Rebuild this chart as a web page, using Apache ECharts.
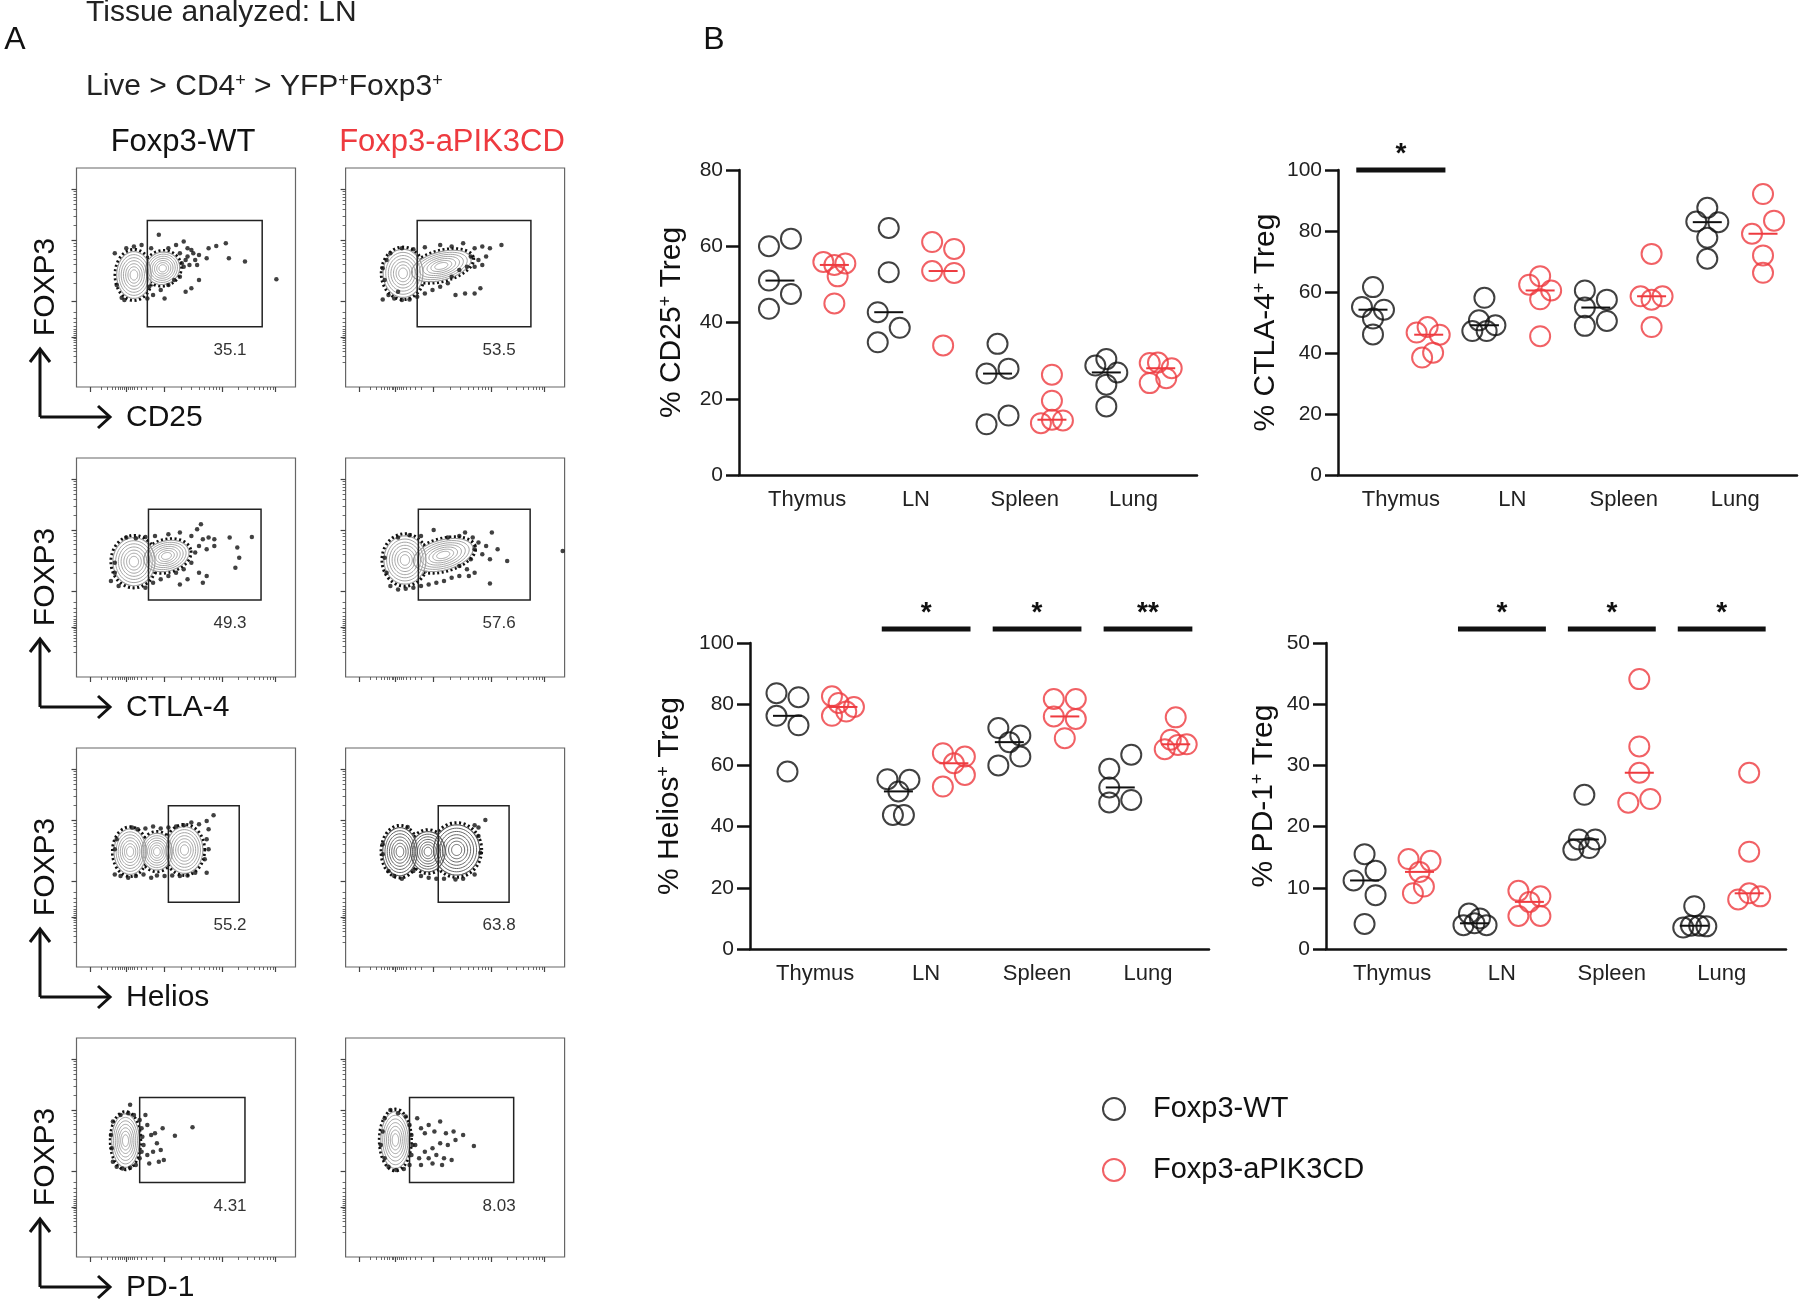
<!DOCTYPE html>
<html>
<head>
    <meta charset="utf-8">
    <title>Treg phenotype</title>
    <script src="https://cdn.jsdelivr.net/npm/echarts@6/dist/echarts.min.js"></script>
</head>
<body style="margin:0;background:#fff;">
    <div id="main" style="width:1800px;height:1301px;"></div>

    <script>
        var FONT = '"Liberation Sans", Arial, Helvetica, sans-serif';

        // ---- panel B data (five mice per tissue, % of Treg) ----
        var tissues = ['Thymus', 'LN', 'Spleen', 'Lung'];
        var groupNames = ['Foxp3-WT', 'Foxp3-aPIK3CD'];
        var groupColors = ['#111111', '#ee3a3f'];

        var cd25WT = [[60.0, 62.0, 51.0, 47.5, 43.6], [64.8, 53.2, 42.7, 38.6, 34.8], [34.4, 27.9, 26.6, 15.6, 13.3], [28.7, 30.4, 26.9, 23.7, 18.0]];
        var cd25Mut = [[55.9, 55.1, 55.5, 52.1, 45.0], [61.1, 59.3, 53.5, 53.0, 34.0], [26.3, 19.5, 14.5, 13.6, 14.3], [29.4, 29.5, 28.0, 25.4, 24.1]];
        var ctla4WT = [[61.6, 55.1, 54.2, 51.3, 46.1], [58.1, 50.7, 47.2, 47.2, 49.1], [60.5, 57.5, 54.9, 48.9, 50.5], [87.6, 83.1, 82.9, 77.8, 70.9]];
        var ctla4Mut = [[46.7, 48.5, 46.0, 40.1, 38.5], [65.2, 62.4, 60.5, 57.6, 45.5], [72.5, 58.6, 57.5, 58.6, 48.5], [92.1, 83.4, 79.1, 72.0, 66.3]];
        var heliosWT = [[83.6, 82.3, 76.2, 73.1, 58.0], [55.5, 55.3, 51.5, 43.8, 43.8], [72.2, 69.8, 67.6, 62.9, 60.0], [63.5, 58.9, 52.8, 48.7, 47.9]];
        var heliosMut = [[82.6, 80.4, 76.2, 77.6, 79.1], [64.0, 62.9, 60.7, 56.9, 53.1], [81.7, 81.7, 76.0, 75.2, 68.9], [75.7, 65.3, 68.4, 66.7, 66.9]];
        var pd1WT = [[15.5, 12.8, 11.2, 8.8, 4.1], [5.8, 5.0, 3.9, 4.2, 3.9], [25.2, 17.9, 17.9, 16.2, 16.5], [7.0, 3.5, 3.8, 3.8, 3.7]];
        var pd1Mut = [[14.7, 14.4, 12.6, 10.2, 9.1], [9.5, 8.6, 7.7, 5.4, 5.4], [44.1, 33.1, 28.8, 23.9, 24.5], [28.8, 15.9, 9.1, 8.1, 8.6]];

        // which side of its column each mouse sits on (-1 left, 0 middle, 1 right)
        var cd25SideWT = [[-1, 1, -1, 1, -1], [0, 0, -1, 1, -1], [0, 1, -1, 1, -1], [-1, 0, 1, 0, 0]];
        var cd25SideMut = [[-1, 0, 1, 0.3, 0], [-1, 1, -1, 1, 0], [0, 0, 0, -1, 1], [-1, -0.25, 1, 0.5, -1]];
        var ctla4SideWT = [[0, -1, 1, 0, 0], [0, -0.5, -1.1, 0.2, 1], [-1, 1, -1, -1, 1], [0, -1, 1, 0, 0]];
        var ctla4SideMut = [[-1.1, -0.1, 1, 0.4, -0.6], [0, -1, 1, 0, 0], [0, -1, 0, 1, 0], [0, 1, -1, 0, 0]];
        var heliosSideWT = [[-1, 1, -1, 1, 0], [-1, 1, 0, -0.5, 0.5], [-1, 1, 0, 1, -1], [1, -1, -1, 1, -1]];
        var heliosSideMut = [[-1, -0.4, -1, 0.3, 1], [-1, 1, 0, 1, -1], [-1, 1, -1, 1, 0], [0, -1, -0.45, 0.2, 1]];
        var pd1SideWT = [[0, 1, -1, 1, 0], [-0.5, 0.5, -1, 0, 1.1], [0, -0.5, 1, -1, 0.45], [0, -1, -0.3, 0.45, 1.1]];
        var pd1SideMut = [[-1, 1, 0, 0.4, -0.6], [-1, 1, 0, -1, 1], [0, 0, 0, -1, 1], [0, 0, 0, -1, 1]];

        // significance marks: [tissue, stars]
        var cd25Sig = [];
        var ctla4Sig = [['Thymus', '*']];
        var heliosSig = [['LN', '*'], ['Spleen', '*'], ['Lung', '**']];
        var pd1Sig = [['LN', '*'], ['Spleen', '*'], ['Lung', '*']];

        // ---- panel A data (flow plots, channel units: x 0-572, y 0-655) ----
        var flowMarkers = ['CD25', 'CTLA-4', 'Helios', 'PD-1'];
        // gate: [x0, y0, x1, y1, % in gate]
        var gatesWT = [[185, 180, 485, 498, 35.1], [188, 230, 482, 502, 49.3], [240, 194, 425, 482, 55.2], [165, 223, 440, 477, 4.31]];
        var gatesMut = [[187, 180, 484, 498, 53.5], [190, 230, 482, 502, 57.6], [242, 194, 427, 482, 63.8], [167, 223, 439, 477, 8.03]];
        // density lobes: [cx, cy, rx, ry, tilt deg]
        var lobesWT = [
            [[150, 335, 45, 70, 0], [225, 355, 45, 48, 25]],
            [[150, 345, 55, 72, 0], [235, 362, 60, 45, 15]],
            [[140, 345, 42, 68, 0], [282, 350, 48, 70, 0], [210, 345, 40, 55, 0]],
            [[128, 348, 36, 80, 0]]
        ];
        var lobesMut = [
            [[150, 340, 52, 72, 0], [250, 362, 80, 42, 15]],
            [[155, 350, 55, 72, 0], [255, 365, 80, 45, 15]],
            [[142, 345, 45, 72, 0], [290, 350, 60, 75, 0], [215, 345, 45, 60, 0]],
            [[130, 350, 38, 85, 0]]
        ];
        // events outside the contour levels
        var eventsWT = [
            [[100, 400], [105, 305], [118, 267], [125, 260], [130, 415], [150, 420], [170, 425], [195, 415], [215, 455], [240, 415], [260, 425], [270, 400], [280, 435], [290, 390], [300, 410], [310, 380], [295, 365], [320, 395], [340, 385], [345, 415], [285, 380], [275, 370], [305, 400], [290, 415], [315, 365], [280, 360], [270, 330], [255, 320], [240, 305], [220, 290], [200, 275], [190, 300], [230, 265], [285, 285], [300, 295], [320, 320], [365, 422], [390, 430], [398, 385], [440, 375], [522, 322], [185, 265]],
            [[100, 342], [100, 312], [90, 287], [110, 272], [130, 417], [155, 415], [180, 419], [205, 422], [240, 427], [270, 432], [300, 422], [315, 442], [325, 457], [330, 412], [345, 417], [360, 412], [320, 392], [340, 382], [310, 372], [360, 392], [400, 417], [420, 387], [458, 419], [425, 357], [415, 327], [300, 342], [280, 322], [260, 312], [240, 302], [220, 292], [200, 282], [180, 267], [320, 312], [340, 302], [290, 292], [330, 282], [270, 277]],
            [[145, 417], [160, 412], [180, 414], [200, 420], [220, 414], [240, 417], [260, 420], [280, 424], [300, 432], [320, 427], [340, 437], [358, 454], [345, 412], [340, 382], [345, 352], [335, 322], [340, 282], [100, 277], [115, 272], [135, 267], [155, 272], [175, 277], [195, 267], [210, 274], [230, 272], [250, 274], [270, 272], [290, 274], [310, 282], [105, 382], [100, 352]],
            [[95, 405], [90, 365], [92, 325], [95, 285], [105, 270], [120, 265], [140, 267], [155, 275], [165, 295], [170, 315], [175, 335], [172, 360], [170, 385], [165, 410], [150, 425], [135, 430], [115, 425], [140, 455], [185, 395], [195, 365], [205, 370], [210, 340], [200, 315], [220, 320], [228, 290], [215, 285], [185, 305], [190, 280], [225, 385], [257, 363], [303, 388], [180, 425]]
        ];
        var eventsMut = [
            [[97, 355], [102, 320], [97, 262], [112, 275], [127, 265], [147, 260], [167, 262], [187, 270], [207, 280], [227, 290], [247, 300], [267, 310], [117, 400], [147, 415], [177, 412], [207, 418], [247, 425], [277, 420], [307, 430], [337, 415], [357, 420], [377, 415], [407, 425], [327, 390], [347, 380], [367, 390], [337, 360], [357, 365], [317, 360], [297, 350], [287, 275], [312, 280], [337, 280], [352, 295], [277, 330], [137, 285], [107, 380]],
            [[102, 357], [107, 312], [117, 272], [137, 262], [157, 264], [177, 267], [197, 272], [217, 277], [237, 282], [257, 287], [277, 297], [297, 302], [137, 417], [167, 424], [197, 422], [230, 440], [267, 417], [297, 422], [312, 432], [332, 417], [347, 402], [367, 392], [382, 432], [337, 382], [357, 367], [327, 352], [377, 352], [397, 382], [422, 347], [317, 322], [297, 332], [337, 312], [322, 302], [377, 280], [567, 377]],
            [[97, 367], [162, 419], [337, 424], [365, 440], [347, 417], [352, 342], [337, 277], [112, 287], [127, 272], [147, 264], [197, 272], [217, 267], [237, 264], [257, 264], [287, 262], [307, 264], [177, 287], [347, 392], [97, 337]],
            [[97, 375], [92, 335], [102, 295], [112, 270], [132, 260], [152, 263], [167, 275], [172, 305], [175, 335], [172, 365], [167, 395], [157, 420], [137, 430], [117, 440], [102, 415], [187, 415], [197, 385], [207, 370], [217, 395], [232, 375], [247, 405], [262, 370], [282, 375], [307, 365], [287, 350], [267, 335], [247, 340], [227, 325], [207, 315], [192, 295], [217, 295], [237, 305], [257, 295], [277, 290], [252, 275], [227, 280], [197, 275], [182, 335], [335, 332]]
        ];
        var flowMajorX = [35, 130, 228, 380, 520];
        var flowMajorY = [150, 257, 438, 592];

        // log-style minor ticks between two decade marks
        function minorTicks(a, b, denseAtStart) {
            var out = [];
            for (var k = 2; k < 10; k++) {
                var f = Math.log10(k);
                out.push(denseAtStart ? b - (b - a) * f : a + (b - a) * f);
            }
            return out;
        }
        var flowMinorX = [].concat(minorTicks(35, 130), minorTicks(130, 228, true), minorTicks(228, 380), minorTicks(380, 520));
        var flowMinorY = [].concat(minorTicks(40, 150), minorTicks(150, 257, true), minorTicks(257, 438), minorTicks(438, 592));

        var grids = [], xAxes = [], yAxes = [], series = [], graphics = [];

        // ---------------- panel A ----------------
        function flowAxis(gi, dim, ticks, len, w) {
            return {
                gridIndex: gi, type: 'value', min: 0, max: dim === 'x' ? 572 : 655,
                position: dim === 'x' ? 'bottom' : 'left',
                axisLine: { show: false, onZero: false },
                axisTick: { show: true, customValues: ticks, length: len, lineStyle: { color: '#444', width: w } },
                axisLabel: { show: false },
                splitLine: { show: false }
            };
        }

        function ellipsePts(api, scale) {
            var c = api.coord([api.value(0), api.value(1)]);
            var s = api.size([api.value(2), api.value(3)]);
            var a = api.value(4) * Math.PI / 180, pts = [];
            for (var i = 0; i < 56; i++) {
                var t = i / 56 * 2 * Math.PI;
                var ex = s[0] * scale * Math.cos(t), ey = s[1] * scale * Math.sin(t);
                pts.push([c[0] + ex * Math.cos(a) - ey * Math.sin(a), c[1] - (ex * Math.sin(a) + ey * Math.cos(a))]);
            }
            return pts;
        }

        // dense rim of events around the population
        function rimItem(params, api) {
            return { type: 'polygon', shape: { points: ellipsePts(api, 1.07) }, style: { fill: 'none', stroke: '#111', lineWidth: 4, lineDash: [2, 2.5] } };
        }
        // white body that hides the inner parts of the rims
        function bodyItem(params, api) {
            return { type: 'polygon', shape: { points: ellipsePts(api, 1.02) }, style: { fill: '#fff', stroke: 'none' } };
        }
        function contourItem(ringColor) {
            return function (params, api) {
                var kids = [];
                for (var k = 0; k < 7; k++) {
                    kids.push({
                        type: 'polygon', shape: { points: ellipsePts(api, 1 - k * 0.13) },
                        style: { fill: 'none', stroke: ringColor, lineWidth: k === 0 ? 1.1 : 0.9 }
                    });
                }
                return { type: 'group', children: kids };
            };
        }

        function gateItem(params, api) {
            var p0 = api.coord([api.value(0), api.value(3)]);
            var p1 = api.coord([api.value(2), api.value(1)]);
            var lab = api.coord([401, api.value(1) - 70]);
            return {
                type: 'group', children: [
                    { type: 'rect', shape: { x: p0[0], y: p0[1], width: p1[0] - p0[0], height: p1[1] - p0[1] }, style: { fill: 'none', stroke: '#222', lineWidth: 1.5 } },
                    { type: 'text', x: lab[0], y: lab[1], style: { text: String(api.value(4)), fontSize: 17, fontFamily: FONT, fill: '#333', align: 'center', verticalAlign: 'middle' } }
                ]
            };
        }

        for (var r = 0; r < 4; r++) {
            [0, 1].forEach(function (col) {
                var gi = grids.length, xi = xAxes.length, yi = yAxes.length;
                grids.push({ left: col ? 345.6 : 76.5, top: 168 + 290 * r, width: 219, height: 219, show: true, borderColor: '#666', borderWidth: 1.2, backgroundColor: '#fff', outerBoundsMode: 'none' });
                xAxes.push(flowAxis(gi, 'x', flowMajorX, 5, 1.2), flowAxis(gi, 'x', flowMinorX, 3, 0.8));
                yAxes.push(flowAxis(gi, 'y', flowMajorY, 5, 1.2), flowAxis(gi, 'y', flowMinorY, 3, 0.8));
                var lobes = col ? lobesMut[r] : lobesWT[r];
                var ring = (col && r === 2) ? '#555' : '#9a9a9a';
                series.push(
                    { type: 'custom', xAxisIndex: xi, yAxisIndex: yi, silent: true, z: 2, data: lobes, renderItem: rimItem },
                    { type: 'custom', xAxisIndex: xi, yAxisIndex: yi, silent: true, z: 2, zlevel: 0, data: lobes, renderItem: bodyItem },
                    { type: 'custom', xAxisIndex: xi, yAxisIndex: yi, silent: true, z: 2, data: lobes, renderItem: contourItem(ring) },
                    {
                        type: 'scatter', xAxisIndex: xi, yAxisIndex: yi, silent: true, z: 3,
                        symbolSize: 4.5, itemStyle: { color: '#111' },
                        data: col ? eventsMut[r] : eventsWT[r]
                    },
                    {
                        type: 'custom', xAxisIndex: xi, yAxisIndex: yi, silent: true, z: 4,
                        data: [col ? gatesMut[r] : gatesWT[r]], renderItem: gateItem
                    }
                );
            });

            // FOXP3 / marker arrows
            var o = 290 * r;
            graphics.push(
                { type: 'polyline', shape: { points: [[40, 417 + o], [40, 349 + o]] }, style: { stroke: '#111', lineWidth: 3, fill: null } },
                { type: 'polyline', shape: { points: [[30, 362 + o], [40, 349 + o], [50, 362 + o]] }, style: { stroke: '#111', lineWidth: 3, fill: null } },
                { type: 'polyline', shape: { points: [[40, 417 + o], [110, 417 + o]] }, style: { stroke: '#111', lineWidth: 3, fill: null } },
                { type: 'polyline', shape: { points: [[98, 406 + o], [110, 417 + o], [98, 428 + o]] }, style: { stroke: '#111', lineWidth: 3, fill: null } },
                { type: 'text', x: 46, y: 287 + o, rotation: Math.PI / 2, style: { text: 'FOXP3', fontSize: 30, fontFamily: FONT, fill: '#111', align: 'center', verticalAlign: 'middle' } },
                { type: 'text', x: 126, y: 418 + o, style: { text: flowMarkers[r], fontSize: 30, fontFamily: FONT, fill: '#111', align: 'left', verticalAlign: 'middle' } }
            );
        }

        var rich = {
            n: { fontSize: 30, fontFamily: FONT, fill: '#222', color: '#222' },
            s: { fontSize: 18, fontFamily: FONT, fill: '#222', color: '#222', verticalAlign: 'top' }
        };
        graphics.push(
            { type: 'text', x: 15, y: 40, style: { text: 'A', fontSize: 32, fontFamily: FONT, fill: '#111', align: 'center', verticalAlign: 'middle' } },
            { type: 'text', x: 714, y: 40, style: { text: 'B', fontSize: 32, fontFamily: FONT, fill: '#111', align: 'center', verticalAlign: 'middle' } },
            { type: 'text', x: 86, y: 13, style: { text: 'Tissue analyzed: LN', fontSize: 30, fontFamily: FONT, fill: '#222', align: 'left', verticalAlign: 'middle' } },
            { type: 'text', x: 86, y: 87, style: { text: '{n|Live > CD4}{s|+}{n| > YFP}{s|+}{n|Foxp3}{s|+}', rich: rich, align: 'left', verticalAlign: 'middle' } },
            { type: 'text', x: 183, y: 142, style: { text: groupNames[0], fontSize: 31, fontFamily: FONT, fill: '#111', align: 'center', verticalAlign: 'middle' } },
            { type: 'text', x: 452, y: 142, style: { text: groupNames[1], fontSize: 31, fontFamily: FONT, fill: groupColors[1], align: 'center', verticalAlign: 'middle' } }
        );

        // ---------------- panel B ----------------
        var panels = [
            { wt: cd25WT, mut: cd25Mut, sWT: cd25SideWT, sMut: cd25SideMut, sig: cd25Sig, label: 'CD25', max: 80, step: 20, sigAt: 80,
              left: 739, top: 170, width: 458, height: 305, xMin: 0.247, xMax: 8.667, gap: 52 },
            { wt: ctla4WT, mut: ctla4Mut, sWT: ctla4SideWT, sMut: ctla4SideMut, sig: ctla4Sig, label: 'CTLA-4', max: 100, step: 20, sigAt: 100,
              left: 1338, top: 170, width: 459, height: 305, xMin: 0.372, xMax: 8.61, gap: 57 },
            { wt: heliosWT, mut: heliosMut, sWT: heliosSideWT, sMut: heliosSideMut, sig: heliosSig, label: 'Helios', max: 100, step: 20, sigAt: 104.6,
              left: 750, top: 643, width: 459, height: 306, xMin: 0.324, xMax: 8.6, gap: 65 },
            { wt: pd1WT, mut: pd1Mut, sWT: pd1SideWT, sMut: pd1SideMut, sig: pd1Sig, label: 'PD-1', max: 50, step: 10, sigAt: 52.3,
              left: 1326, top: 643, width: 460, height: 306, xMin: 0.298, xMax: 8.67, gap: 47 }
        ];

        function median(arr) {
            var s = arr.slice().sort(function (a, b) { return a - b; });
            return s[Math.floor(s.length / 2)];
        }

        function medianItem(params, api) {
            var p = api.coord([api.value(0), api.value(1)]);
            return { type: 'line', shape: { x1: p[0] - 14.5, y1: p[1], x2: p[0] + 14.5, y2: p[1] }, style: { stroke: groupColors[api.value(2)], lineWidth: 2 } };
        }

        function sigItem(stars) {
            return function (params, api) {
                var c = api.value(0), lv = api.value(1);
                var a = api.coord([c - 0.8, lv]), b = api.coord([c + 0.8, lv]);
                return {
                    type: 'group', children: [
                        { type: 'line', shape: { x1: a[0], y1: a[1], x2: b[0], y2: b[1] }, style: { stroke: '#111', lineWidth: 5 } },
                        { type: 'text', x: (a[0] + b[0]) / 2, y: a[1] - 16, style: { text: stars[api.value(2)], fontSize: 28, fontWeight: 'bold', fontFamily: FONT, fill: '#111', align: 'center', verticalAlign: 'middle' } }
                    ]
                };
            };
        }

        panels.forEach(function (p) {
            var gi = grids.length, xi = xAxes.length, yi = yAxes.length;
            grids.push({ left: p.left, top: p.top, width: p.width, height: p.height, outerBoundsMode: 'none' });
            xAxes.push({
                gridIndex: gi, type: 'value', min: p.xMin, max: p.xMax,
                axisLine: { show: true, onZero: false, lineStyle: { color: '#111', width: 2.5 } },
                axisTick: { show: false },
                splitLine: { show: false },
                axisLabel: {
                    customValues: [1.5, 3.5, 5.5, 7.5], margin: 14, fontSize: 22, fontFamily: FONT, color: '#222',
                    formatter: function (v) { return tissues[Math.round((v - 1.5) / 2)]; }
                }
            });
            yAxes.push({
                gridIndex: gi, type: 'value', min: 0, max: p.max, interval: p.step,
                axisLine: { show: true, lineStyle: { color: '#111', width: 2.5 } },
                axisTick: { show: true, length: 13, lineStyle: { color: '#111', width: 2.5 } },
                splitLine: { show: false },
                axisLabel: { margin: 16, fontSize: 21, fontFamily: FONT, color: '#222' },
                name: '{t|% ' + p.label + '}{s|+}{t| Treg}', nameLocation: 'middle', nameRotate: 90, nameGap: p.gap,
                nameTextStyle: {
                    rich: {
                        t: { fontSize: 30, fontFamily: FONT, color: '#111' },
                        s: { fontSize: 18, fontFamily: FONT, color: '#111', verticalAlign: 'top' }
                    }
                }
            });

            var jit = 11 * (p.xMax - p.xMin) / p.width;
            var meds = [];
            [p.wt, p.mut].forEach(function (vals, g) {
                var sides = g ? p.sMut : p.sWT;
                var pts = [];
                vals.forEach(function (row, t) {
                    var colX = 1 + 2 * t + g;
                    row.forEach(function (v, i) { pts.push([colX + sides[t][i] * jit, v]); });
                    meds.push([colX, median(row), g]);
                });
                series.push({
                    type: 'scatter', name: groupNames[g], xAxisIndex: xi, yAxisIndex: yi, z: 3,
                    symbol: 'circle', symbolSize: 20,
                    itemStyle: { color: 'rgba(0,0,0,0)', borderColor: groupColors[g], borderWidth: 2 },
                    emphasis: { disabled: true },
                    data: pts
                });
            });
            series.push({ type: 'custom', xAxisIndex: xi, yAxisIndex: yi, silent: true, z: 4, data: meds, renderItem: medianItem });

            if (p.sig.length) {
                var stars = p.sig.map(function (s) { return s[1]; });
                var sigData = p.sig.map(function (s, i) { return [1.5 + 2 * tissues.indexOf(s[0]), p.sigAt, i]; });
                series.push({ type: 'custom', xAxisIndex: xi, yAxisIndex: yi, silent: true, z: 5, data: sigData, renderItem: sigItem(stars) });
            }
        });

        var myChart = echarts.init(document.getElementById('main'));
        myChart.setOption({
            backgroundColor: '#fff',
            animation: false,
            grid: grids,
            xAxis: xAxes,
            yAxis: yAxes,
            legend: {
                data: groupNames, orient: 'vertical', left: 1097, top: 1089,
                icon: 'circle', itemWidth: 24, itemHeight: 22, itemGap: 31, selectedMode: false,
                textStyle: { fontSize: 29, fontFamily: FONT, color: '#111', lineHeight: 30, padding: [0, 0, 0, 22] }
            },
            graphic: graphics,
            series: series
        });
    </script>
</body>
</html>
